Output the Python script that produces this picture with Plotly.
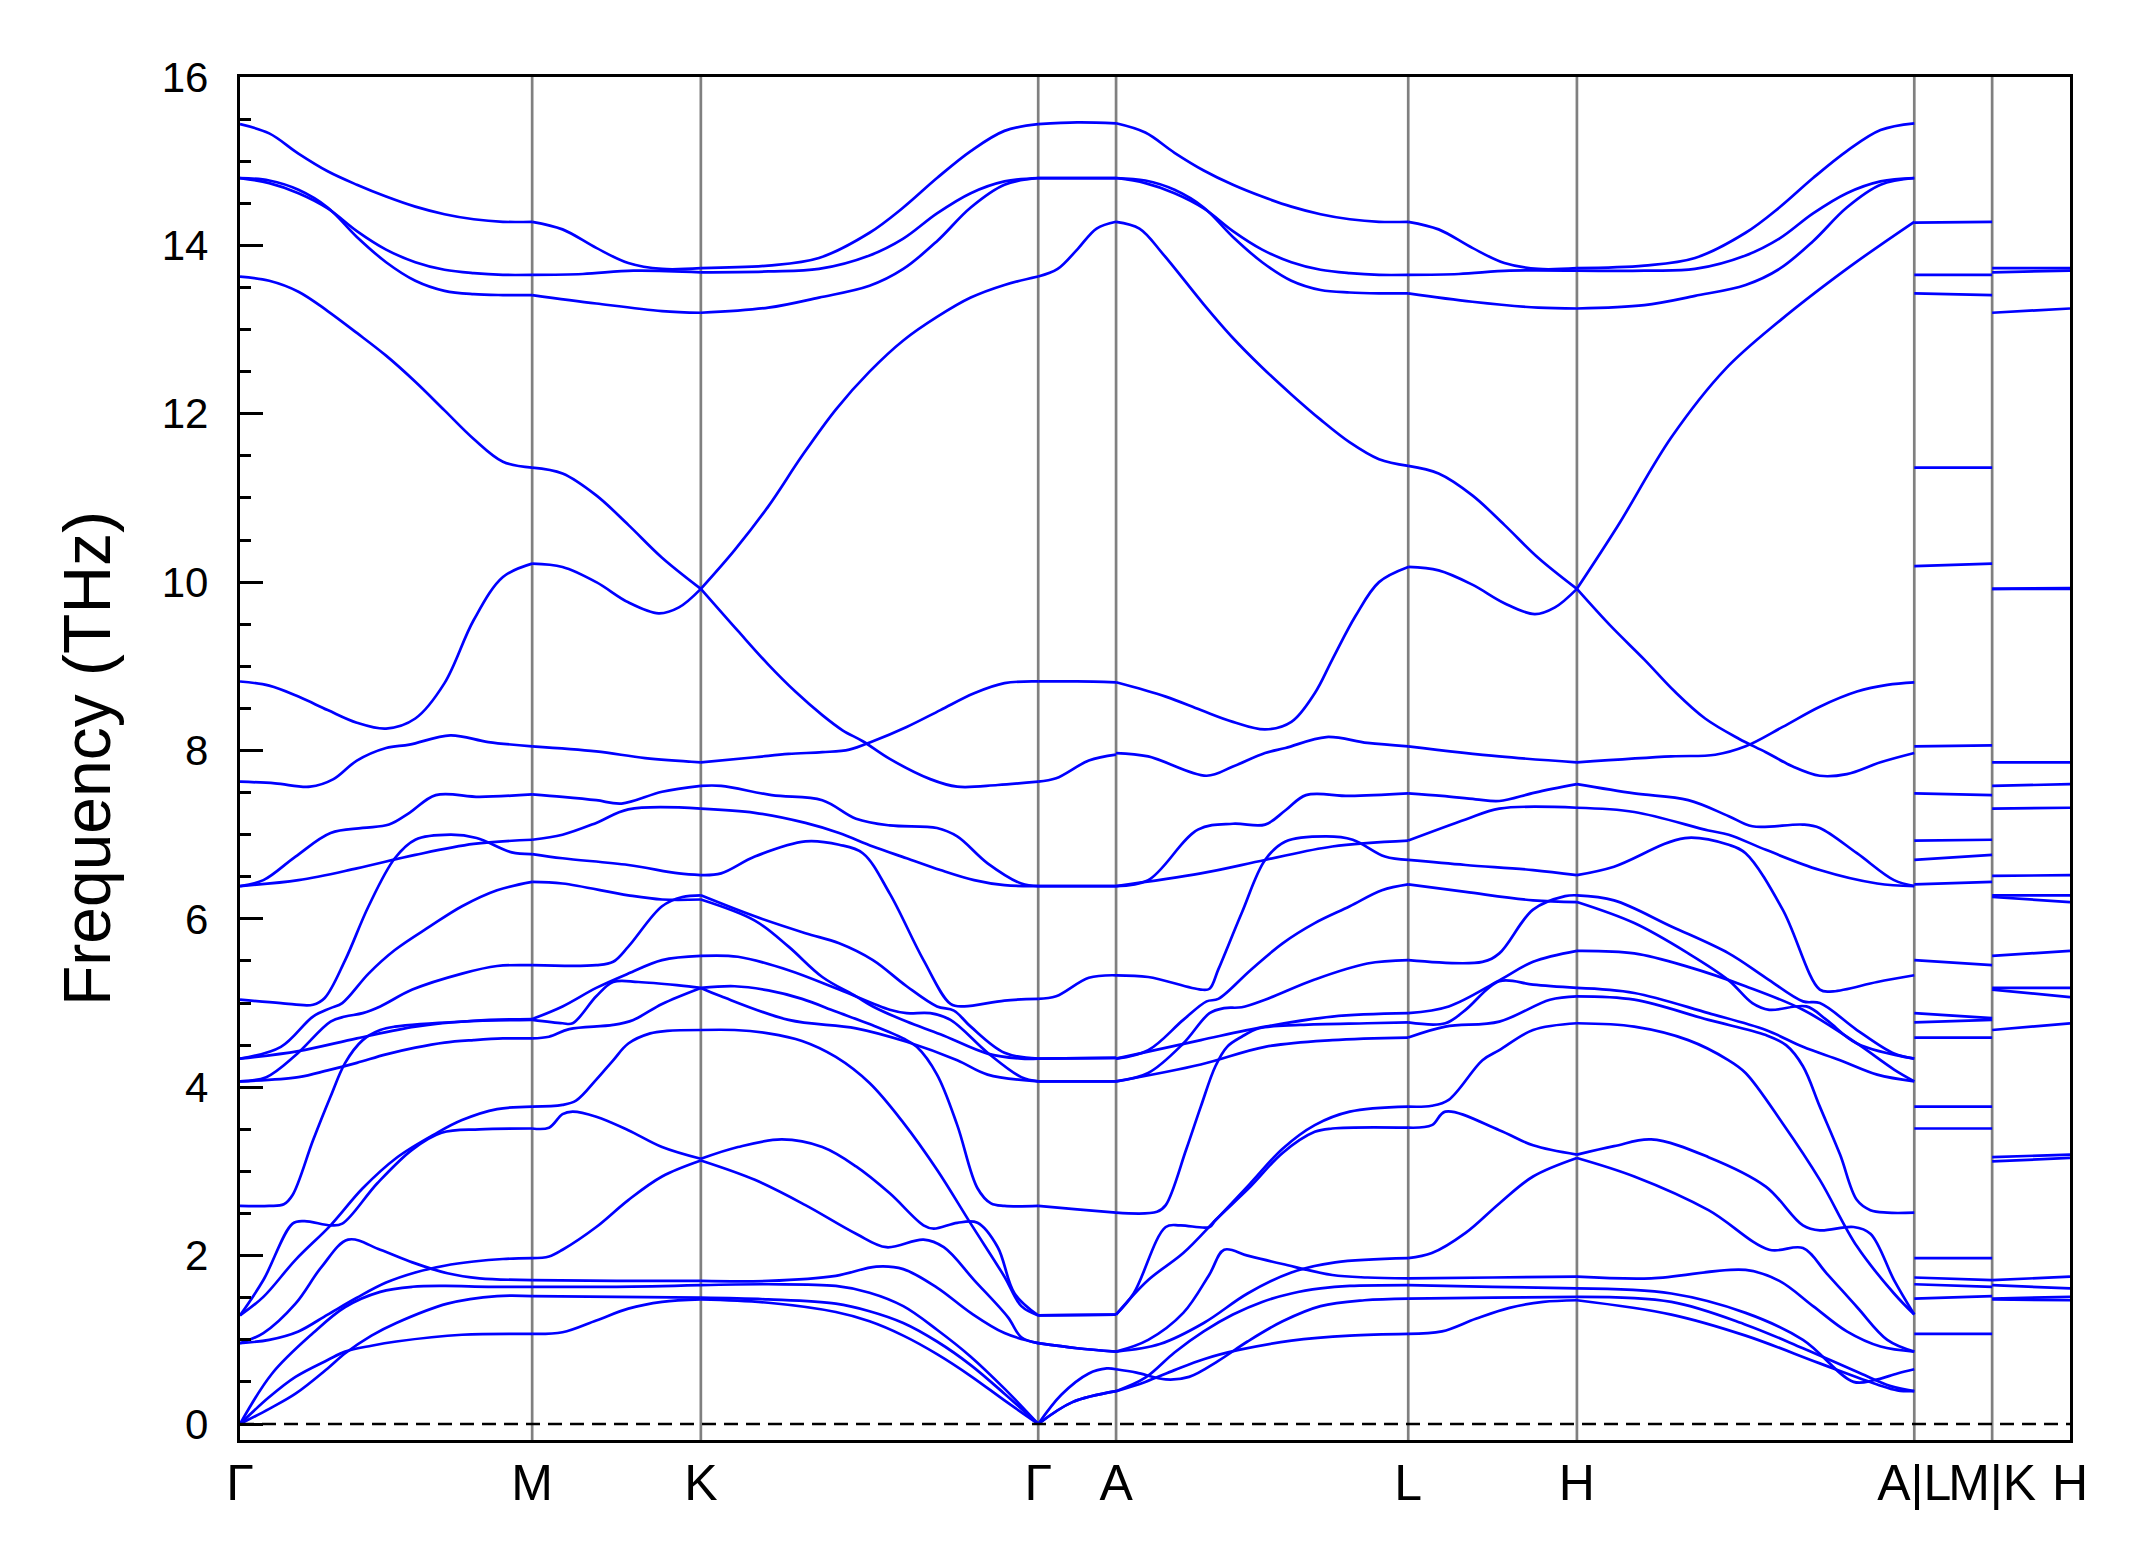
import plotly.graph_objects as go

# ---------------- path / labels ----------------
LABELS = ["Γ", "M", "K", "Γ", "A", "L", "H", "A|L", "M|K", "H"]
SEG_LEN = [1.0, 0.5774, 1.1547, 0.2665, 1.0, 0.5774, 1.1547, 0.2665, 0.2665]

# ---------------- band data: (fraction along segment, THz) ----------------
GM = [
    [(0,15.44),(.1,15.33),(.2,15.09),(.3,14.88),(.4,14.72),(.5,14.58),(.6,14.46),(.7,14.37),(.8,14.31),(.9,14.28),(1,14.28)],
    [(0,14.80),(.1,14.77),(.2,14.66),(.3,14.45),(.4,14.10),(.5,13.80),(.6,13.58),(.7,13.46),(.8,13.42),(.9,13.41),(1,13.41)],
    [(0,14.80),(.1,14.74),(.2,14.62),(.3,14.44),(.4,14.17),(.5,13.95),(.6,13.80),(.7,13.71),(.8,13.67),(.9,13.65),(1,13.65)],
    [(0,13.63),(.1,13.58),(.2,13.45),(.3,13.22),(.4,12.96),(.5,12.69),(.6,12.38),(.7,12.04),(.8,11.70),(.9,11.43),(1,11.36)],
    [(0,8.82),(.1,8.77),(.2,8.64),(.3,8.48),(.4,8.33),(.5,8.26),(.6,8.38),(.7,8.80),(.8,9.55),(.9,10.06),(1,10.22)],
    [(0,7.63),(.12,7.61),(.24,7.57),(.32,7.66),(.4,7.88),(.5,8.03),(.58,8.07),(.72,8.18),(.85,8.10),(1,8.05)],
    [(0,6.39),(.08,6.46),(.19,6.74),(.31,7.02),(.42,7.08),(.51,7.12),(.58,7.26),(.67,7.47),(.82,7.45),(1,7.48)],
    [(0,6.39),(.2,6.46),(.4,6.60),(.6,6.76),(.8,6.89),(1,6.94)],
    [(0,5.04),(.14,5.00),(.25,4.98),(.29,5.06),(.36,5.51),(.44,6.15),(.53,6.72),(.6,6.94),(.72,7.00),(.81,6.96),(.93,6.79),(1,6.77)],
    [(0,4.34),(.14,4.48),(.25,4.84),(.31,4.94),(.35,5.00),(.44,5.35),(.53,5.63),(.65,5.91),(.76,6.15),(.88,6.34),(1,6.44)],
    [(0,4.34),(.2,4.43),(.4,4.58),(.6,4.72),(.8,4.79),(1,4.81)],
    [(0,4.07),(.09,4.12),(.19,4.38),(.31,4.78),(.36,4.84),(.42,4.88),(.48,4.96),(.59,5.16),(.76,5.35),(.88,5.44),(1,5.45)],
    [(0,4.07),(.2,4.12),(.3,4.20),(.4,4.29),(.5,4.39),(.6,4.47),(.7,4.53),(.8,4.56),(.9,4.58),(1,4.58)],
    [(0,2.59),(.1,2.59),(.15,2.61),(.18,2.72),(.25,3.37),(.31,3.89),(.36,4.29),(.42,4.56),(.48,4.68),(.53,4.72),(.76,4.78),(1,4.80)],
    [(0,1.29),(.08,1.71),(.18,2.38),(.22,2.41),(.31,2.36),(.35,2.38),(.47,2.86),(.59,3.26),(.69,3.46),(.82,3.50),(1,3.51)],
    [(0,1.29),(.08,1.51),(.19,1.95),(.31,2.36),(.42,2.80),(.535,3.16),(.67,3.45),(.76,3.61),(.88,3.74),(1,3.77)],
    [(0,0.96),(.08,1.08),(.19,1.43),(.28,1.87),(.37,2.19),(.48,2.07),(.59,1.92),(.71,1.79),(.82,1.73),(1,1.71)],
    [(0,0.96),(.1,1.00),(.2,1.10),(.3,1.30),(.4,1.50),(.5,1.68),(.6,1.80),(.7,1.88),(.8,1.93),(.9,1.96),(1,1.97)],
    [(0,0),(.11,0.60),(.25,1.08),(.36,1.39),(.48,1.57),(.59,1.63),(.7,1.64),(.85,1.63),(1,1.63)],
    [(0,0),(.1,0.18),(.19,0.36),(.3,0.66),(.36,0.84),(.45,1.05),(.535,1.20),(.71,1.43),(.88,1.52),(1,1.52)],
    [(0,0),(.1,0.32),(.19,0.56),(.3,0.76),(.36,0.86),(.45,0.93),(.535,0.98),(.76,1.06),(1,1.07)],
]

MK = [
    [(0,14.28),(.18,14.19),(.38,13.97),(.57,13.79),(.77,13.72),(1,13.73)],
    [(0,13.65),(.3,13.66),(.6,13.70),(1,13.68)],
    [(0,13.41),(.38,13.31),(.77,13.22),(1,13.20)],
    [(0,11.36),(.18,11.29),(.38,11.03),(.57,10.68),(.77,10.29),(1,9.92)],
    [(0,10.22),(.18,10.18),(.38,10.00),(.57,9.76),(.75,9.63),(.87,9.70),(1,9.92)],
    [(0,8.05),(.38,7.99),(.67,7.91),(1,7.86)],
    [(0,7.48),(.18,7.45),(.38,7.41),(.53,7.37),(.77,7.51),(1,7.58)],
    [(0,6.94),(.18,7.00),(.38,7.14),(.57,7.30),(1,7.31)],
    [(0,6.77),(.18,6.72),(.57,6.64),(.87,6.54),(1,6.52)],
    [(0,6.44),(.18,6.42),(.57,6.28),(.77,6.23),(1,6.23)],
    [(0,5.45),(.38,5.45),(.48,5.49),(.57,5.67),(.77,6.15),(.89,6.26),(1,6.28)],
    [(0,4.81),(.18,4.96),(.38,5.18),(.57,5.35),(.77,5.51),(1,5.56)],
    [(0,4.80),(.18,4.76),(.24,4.76),(.38,5.08),(.48,5.25),(.63,5.25),(.87,5.21),(1,5.18)],
    [(0,4.58),(.1,4.60),(.22,4.69),(.48,4.74),(.6,4.80),(.77,4.99),(1,5.18)],
    [(0,3.77),(.18,3.79),(.26,3.84),(.38,4.09),(.48,4.32),(.57,4.52),(.7,4.64),(.8,4.67),(1,4.68)],
    [(0,3.51),(.1,3.52),(.18,3.68),(.24,3.71),(.38,3.65),(.57,3.49),(.77,3.29),(1,3.15)],
    [(0,1.97),(.1,1.99),(.18,2.07),(.38,2.34),(.57,2.66),(.77,2.94),(1,3.13)],
    [(0,1.71),(.5,1.70),(1,1.70)],
    [(0,1.63),(.5,1.63),(1,1.65)],
    [(0,1.52),(.5,1.51),(1,1.50)],
    [(0,1.07),(.18,1.09),(.38,1.23),(.57,1.37),(.77,1.45),(1,1.48)],
]

KG = [
    [(0,13.73),(.2,13.76),(.35,13.85),(.5,14.15),(.6,14.45),(.7,14.80),(.8,15.12),(.9,15.36),(1,15.44)],
    [(0,13.68),(.2,13.69),(.35,13.72),(.5,13.88),(.6,14.08),(.7,14.38),(.8,14.62),(.9,14.76),(1,14.80)],
    [(0,13.20),(.2,13.26),(.35,13.38),(.5,13.52),(.6,13.72),(.7,14.05),(.8,14.45),(.9,14.72),(1,14.80)],
    [(0,9.92),(.1,10.38),(.2,10.90),(.3,11.50),(.4,12.05),(.5,12.50),(.6,12.87),(.7,13.15),(.8,13.38),(.9,13.53),(1,13.63)],
    [(0,9.92),(.11,9.42),(.2,9.02),(.28,8.70),(.36,8.42),(.42,8.24),(.48,8.11),(.56,7.90),(.68,7.66),(.76,7.57),(.88,7.59),(1,7.63)],
    [(0,7.86),(.16,7.92),(.26,7.96),(.36,7.98),(.44,8.01),(.51,8.11),(.61,8.28),(.71,8.48),(.81,8.68),(.90,8.80),(1,8.82)],
    [(0,7.58),(.06,7.58),(.21,7.47),(.36,7.41),(.46,7.19),(.56,7.11),(.70,7.08),(.76,6.98),(.85,6.66),(.95,6.42),(1,6.39)],
    [(0,7.31),(.16,7.26),(.31,7.14),(.41,7.02),(.51,6.86),(.61,6.72),(.71,6.58),(.81,6.46),(.90,6.40),(1,6.39)],
    [(0,6.52),(.06,6.54),(.16,6.74),(.31,6.92),(.41,6.88),(.48,6.78),(.56,6.30),(.66,5.51),(.74,4.99),(.78,4.96),(.90,5.03),(1,5.05)],
    [(0,6.28),(.16,6.03),(.31,5.83),(.41,5.71),(.51,5.51),(.61,5.20),(.70,4.96),(.75,4.91),(.80,4.72),(.90,4.41),(1,4.34)],
    [(0,6.23),(.16,5.98),(.26,5.67),(.36,5.31),(.46,5.08),(.51,4.96),(.61,4.78),(.71,4.63),(.85,4.40),(.95,4.34),(1,4.34)],
    [(0,5.56),(.11,5.55),(.26,5.39),(.41,5.16),(.56,4.92),(.61,4.88),(.68,4.88),(.74,4.80),(.85,4.41),(.95,4.12),(1,4.07)],
    [(0,5.18),(.06,5.08),(.26,4.80),(.46,4.70),(.61,4.54),(.76,4.32),(.85,4.15),(1,4.07)],
    [(0,5.18),(.1,5.20),(.2,5.15),(.3,5.05),(.4,4.90),(.5,4.75),(.6,4.58),(.64,4.48),(.7,4.15),(.76,3.55),(.82,2.80),(.86,2.62),(.9,2.59),(1,2.59)],
    [(0,4.68),(.1,4.68),(.2,4.64),(.3,4.55),(.4,4.36),(.5,4.05),(.6,3.58),(.7,3.02),(.8,2.38),(.9,1.75),(.95,1.40),(1,1.29)],
    [(0,3.15),(.11,3.29),(.24,3.38),(.36,3.29),(.46,3.06),(.56,2.74),(.66,2.36),(.69,2.32),(.76,2.39),(.82,2.39),(.88,2.10),(.93,1.55),(1,1.29)],
    [(0,3.13),(.16,2.90),(.31,2.60),(.46,2.26),(.55,2.10),(.66,2.19),(.72,2.10),(.81,1.71),(.91,1.27),(.95,1.03),(1,0.96)],
    [(0,1.70),(.2,1.70),(.4,1.76),(.52,1.87),(.6,1.84),(.7,1.62),(.8,1.32),(.9,1.08),(1,0.96)],
    [(0,1.65),(.2,1.66),(.4,1.64),(.5,1.56),(.6,1.40),(.7,1.12),(.8,0.80),(.9,0.42),(1,0)],
    [(0,1.50),(.2,1.48),(.4,1.43),(.5,1.34),(.6,1.20),(.7,0.98),(.8,0.70),(.9,0.36),(1,0)],
    [(0,1.48),(.2,1.44),(.4,1.33),(.5,1.22),(.6,1.05),(.7,0.83),(.8,0.57),(.9,0.28),(1,0)],
]

GA = [
    [(0,15.44),(.5,15.46),(1,15.45)],
    [(0,14.80),(.5,14.80),(1,14.80)],
    [(0,14.80),(.5,14.80),(1,14.80)],
    [(0,13.63),(.25,13.72),(.5,13.95),(.75,14.20),(1,14.28)],
    [(0,8.82),(.5,8.82),(1,8.81)],
    [(0,7.63),(.23,7.67),(.65,7.88),(1,7.95)],
    [(0,6.39),(1,6.39)],
    [(0,6.39),(1,6.39)],
    [(0,5.05),(.23,5.08),(.65,5.30),(1,5.33)],
    [(0,4.34),(1,4.35)],
    [(0,4.34),(1,4.35)],
    [(0,4.07),(1,4.07)],
    [(0,4.07),(1,4.07)],
    [(0,2.59),(.5,2.55),(1,2.51)],
    [(0,1.29),(1,1.30)],
    [(0,1.29),(1,1.30)],
    [(0,0.96),(.5,0.90),(1,0.86)],
    [(0,0.96),(.5,0.90),(1,0.86)],
    [(0,0),(.3,0.35),(.65,0.60),(.88,0.66),(1,0.65)],
    [(0,0),(.44,0.26),(1,0.39)],
    [(0,0),(.44,0.26),(1,0.39)],
]

AL = [
    [(0,15.45),(.1,15.34),(.2,15.10),(.3,14.89),(.4,14.72),(.5,14.58),(.6,14.46),(.7,14.37),(.8,14.31),(.9,14.28),(1,14.28)],
    [(0,14.80),(.1,14.77),(.2,14.66),(.3,14.45),(.4,14.10),(.5,13.80),(.6,13.58),(.7,13.47),(.8,13.44),(.9,13.43),(1,13.43)],
    [(0,14.80),(.1,14.74),(.2,14.62),(.3,14.44),(.4,14.17),(.5,13.95),(.6,13.80),(.7,13.71),(.8,13.67),(.9,13.65),(1,13.65)],
    [(0,14.28),(.08,14.20),(.16,13.90),(.3,13.30),(.4,12.90),(.5,12.55),(.6,12.23),(.7,11.93),(.8,11.66),(.9,11.46),(1,11.38)],
    [(0,8.81),(.17,8.64),(.29,8.48),(.40,8.34),(.51,8.25),(.6,8.34),(.68,8.68),(.74,9.08),(.82,9.60),(.9,10.00),(1,10.18)],
    [(0,7.97),(.11,7.93),(.31,7.70),(.40,7.81),(.51,7.97),(.58,8.03),(.72,8.16),(.86,8.09),(1,8.05)],
    [(0,6.39),(.11,6.46),(.28,7.06),(.40,7.13),(.51,7.12),(.58,7.29),(.65,7.47),(.80,7.46),(1,7.49)],
    [(0,6.39),(.29,6.54),(.51,6.70),(.74,6.86),(1,6.93)],
    [(0,5.33),(.11,5.31),(.29,5.16),(.32,5.17),(.35,5.40),(.43,6.07),(.51,6.70),(.58,6.92),(.72,6.98),(.81,6.94),(.92,6.74),(1,6.70)],
    [(0,4.34),(.11,4.44),(.23,4.80),(.31,5.02),(.35,5.05),(.46,5.39),(.57,5.71),(.68,5.95),(.80,6.15),(.91,6.34),(1,6.41)],
    [(0,4.34),(.29,4.56),(.51,4.72),(.74,4.84),(1,4.88)],
    [(0,4.07),(.11,4.17),(.23,4.52),(.32,4.88),(.37,4.94),(.43,4.95),(.51,5.04),(.68,5.28),(.86,5.47),(1,5.51)],
    [(0,4.07),(.29,4.27),(.51,4.48),(.74,4.56),(1,4.59)],
    [(0,2.51),(.14,2.52),(.17,2.60),(.24,3.26),(.29,3.77),(.34,4.25),(.38,4.48),(.43,4.60),(.49,4.70),(.63,4.74),(.86,4.76),(1,4.77)],
    [(0,1.30),(.06,1.55),(.17,2.34),(.22,2.36),(.32,2.34),(.34,2.42),(.46,2.82),(.57,3.22),(.68,3.47),(.74,3.51),(1,3.52)],
    [(0,1.30),(.11,1.71),(.23,2.03),(.34,2.42),(.46,2.86),(.57,3.27),(.68,3.55),(.80,3.71),(1,3.77)],
    [(0,0.86),(.11,1.00),(.23,1.32),(.32,1.78),(.37,2.07),(.45,2.00),(.57,1.90),(.74,1.77),(.86,1.74),(1,1.73)],
    [(0,0.86),(.15,0.95),(.3,1.20),(.45,1.55),(.6,1.80),(.75,1.92),(1,1.97)],
    [(0,0.39),(.1,0.55),(.2,0.85),(.3,1.10),(.4,1.30),(.5,1.45),(.6,1.55),(.7,1.61),(.8,1.64),(1,1.65)],
    [(0,0.65),(.07,0.61),(.17,0.53),(.25,0.56),(.35,0.75),(.45,0.98),(.57,1.22),(.7,1.40),(.85,1.47),(1,1.49)],
    [(0,0.39),(.1,0.50),(.2,0.64),(.3,0.77),(.42,0.88),(.6,0.99),(.8,1.05),(1,1.07)],
]

LH = [
    [(0,14.28),(.18,14.19),(.38,13.97),(.57,13.79),(.77,13.72),(1,13.73)],
    [(0,13.65),(.3,13.66),(.6,13.70),(1,13.70)],
    [(0,13.43),(.38,13.33),(.77,13.26),(1,13.25)],
    [(0,11.38),(.18,11.29),(.38,11.03),(.57,10.68),(.77,10.29),(1,9.92)],
    [(0,10.18),(.18,10.14),(.38,9.97),(.57,9.75),(.75,9.62),(.87,9.70),(1,9.92)],
    [(0,8.05),(.54,7.93),(1,7.86)],
    [(0,7.49),(.2,7.46),(.4,7.42),(.54,7.40),(.75,7.50),(1,7.60)],
    [(0,6.93),(.34,7.18),(.54,7.31),(1,7.32)],
    [(0,6.70),(.34,6.64),(.74,6.58),(1,6.52)],
    [(0,6.41),(.34,6.32),(.74,6.22),(1,6.20)],
    [(0,5.51),(.44,5.49),(.54,5.59),(.74,6.11),(.93,6.27),(1,6.28)],
    [(0,4.88),(.24,4.96),(.54,5.27),(.74,5.49),(1,5.62)],
    [(0,4.77),(.22,4.76),(.34,4.92),(.54,5.26),(.74,5.22),(1,5.18)],
    [(0,4.59),(.22,4.72),(.54,4.78),(.84,5.04),(1,5.08)],
    [(0,3.77),(.14,3.78),(.24,3.85),(.44,4.32),(.54,4.44),(.74,4.68),(1,4.76)],
    [(0,3.52),(.14,3.55),(.22,3.71),(.54,3.49),(.74,3.31),(1,3.20)],
    [(0,1.97),(.14,2.03),(.34,2.27),(.54,2.62),(.74,2.94),(1,3.16)],
    [(0,1.73),(.5,1.74),(1,1.75)],
    [(0,1.65),(.5,1.63),(1,1.61)],
    [(0,1.49),(.5,1.50),(1,1.51)],
    [(0,1.07),(.2,1.10),(.4,1.25),(.6,1.38),(.8,1.45),(1,1.47)],
]

HA = [
    [(0,13.73),(.2,13.76),(.35,13.85),(.5,14.15),(.6,14.45),(.7,14.80),(.8,15.12),(.9,15.37),(1,15.45)],
    [(0,13.70),(.2,13.70),(.35,13.72),(.5,13.88),(.6,14.08),(.7,14.38),(.8,14.62),(.9,14.76),(1,14.80)],
    [(0,13.25),(.2,13.29),(.35,13.40),(.5,13.53),(.6,13.72),(.7,14.05),(.8,14.45),(.9,14.72),(1,14.80)],
    [(0,9.92),(.12,10.66),(.28,11.72),(.44,12.53),(.6,13.10),(.81,13.75),(1,14.28)],
    [(0,9.92),(.1,9.48),(.2,9.08),(.29,8.70),(.38,8.38),(.48,8.14),(.56,7.98),(.64,7.81),(.72,7.70),(.8,7.72),(.9,7.86),(1,7.97)],
    [(0,7.86),(.28,7.93),(.41,7.95),(.5,8.05),(.61,8.28),(.72,8.52),(.83,8.70),(.92,8.78),(1,8.81)],
    [(0,7.60),(.17,7.49),(.33,7.41),(.45,7.22),(.52,7.10),(.67,7.12),(.72,7.08),(.83,6.78),(.94,6.46),(1,6.39)],
    [(0,7.32),(.17,7.27),(.39,7.05),(.45,7.00),(.56,6.82),(.72,6.58),(.89,6.42),(1,6.39)],
    [(0,6.52),(.11,6.62),(.32,6.96),(.45,6.88),(.5,6.78),(.61,6.11),(.72,5.16),(.76,5.14),(.89,5.25),(1,5.33)],
    [(0,6.28),(.11,6.22),(.28,5.91),(.45,5.59),(.56,5.30),(.67,5.02),(.72,5.00),(.83,4.68),(.94,4.40),(1,4.34)],
    [(0,6.20),(.17,5.95),(.33,5.59),(.45,5.27),(.52,5.00),(.57,4.92),(.68,4.96),(.74,4.80),(.83,4.52),(1,4.34)],
    [(0,5.62),(.17,5.59),(.33,5.43),(.5,5.20),(.67,4.92),(.83,4.52),(.94,4.21),(1,4.07)],
    [(0,5.18),(.17,5.12),(.39,4.88),(.56,4.68),(.67,4.48),(.78,4.32),(.89,4.15),(1,4.07)],
    [(0,5.08),(.17,5.04),(.39,4.80),(.56,4.62),(.62,4.50),(.67,4.25),(.72,3.77),(.78,3.20),(.83,2.66),(.87,2.54),(.92,2.51),(1,2.51)],
    [(0,4.76),(.17,4.72),(.33,4.56),(.45,4.32),(.5,4.17),(.61,3.57),(.72,2.90),(.83,2.11),(.94,1.55),(1,1.30)],
    [(0,3.20),(.11,3.30),(.22,3.38),(.39,3.17),(.56,2.82),(.67,2.36),(.72,2.30),(.82,2.34),(.87,2.26),(.94,1.71),(1,1.30)],
    [(0,3.16),(.17,2.94),(.39,2.54),(.57,2.07),(.67,2.09),(.74,1.79),(.83,1.39),(.92,1.00),(1,0.86)],
    [(0,1.75),(.22,1.73),(.5,1.83),(.6,1.70),(.7,1.40),(.8,1.10),(.9,0.92),(1,0.86)],
    [(0,1.61),(.28,1.55),(.5,1.32),(.67,1.00),(.82,0.50),(.88,0.52),(.95,0.60),(1,0.65)],
    [(0,1.51),(.28,1.45),(.5,1.18),(.67,0.90),(.83,0.62),(.93,0.45),(1,0.39)],
    [(0,1.47),(.28,1.30),(.5,1.05),(.72,0.72),(.89,0.47),(.95,0.40),(1,0.39)],
]

LM_L = [14.27, 13.65, 13.43, 11.36, 10.19, 8.05, 7.49, 6.93, 6.70, 6.41, 5.51, 4.88, 4.77, 4.59, 3.77, 3.51, 1.97, 1.74, 1.66, 1.49, 1.07]
LM_M = [14.28, 13.65, 13.41, 11.36, 10.22, 8.06, 7.47, 6.94, 6.76, 6.44, 5.45, 4.82, 4.80, 4.59, 3.77, 3.51, 1.97, 1.71, 1.63, 1.52, 1.07]
KH_K = [13.73, 13.68, 13.20, 9.92, 9.92, 7.86, 7.58, 7.31, 6.51, 6.28, 6.26, 5.56, 5.18, 5.16, 4.68, 3.17, 3.12, 1.71, 1.65, 1.49, 1.48]
KH_H = [13.73, 13.70, 13.25, 9.92, 9.93, 7.86, 7.60, 7.32, 6.52, 6.28, 6.20, 5.62, 5.18, 5.07, 4.76, 3.20, 3.16, 1.75, 1.61, 1.51, 1.47]

LM = [[(0, a), (1, b)] for a, b in zip(LM_L, LM_M)]
KH = [[(0, a), (1, b)] for a, b in zip(KH_K, KH_H)]

SEGMENTS = [GM, MK, KG, GA, AL, LH, HA, LM, KH]

# ---------------- build figure ----------------
ticks = [0.0]
for L in SEG_LEN:
    ticks.append(ticks[-1] + L)
xmax = ticks[-1]

fig = go.Figure()
for si, seg in enumerate(SEGMENTS):
    x0, L = ticks[si], SEG_LEN[si]
    for band in seg:
        xs = [x0 + t * L for t, _ in band]
        ys = [f for _, f in band]
        fig.add_trace(go.Scatter(
            x=xs, y=ys, mode="lines",
            line=dict(color="#0000ff", width=2.7, shape="spline", smoothing=1.0),
            showlegend=False, hoverinfo="skip"))

shapes = []
for xv in ticks[1:-1]:
    shapes.append(dict(type="line", xref="x", yref="paper", x0=xv, x1=xv, y0=0, y1=1,
                       line=dict(color="#808080", width=2.7), layer="below"))
shapes.append(dict(type="line", xref="x", yref="y", x0=0, x1=xmax, y0=0, y1=0,
                   line=dict(color="black", width=2.6, dash="14px,8px"), layer="above"))

FONT = "Liberation Sans, Arial, Helvetica, sans-serif"
fig.update_layout(
    width=2148, height=1567,
    margin=dict(l=232, r=86, t=69, b=135),
    paper_bgcolor="white", plot_bgcolor="white",
    shapes=shapes,
    font=dict(family=FONT, color="black", size=42),
    xaxis=dict(range=[0, xmax], tickvals=ticks, ticktext=LABELS, tickangle=0,
               ticks="", showgrid=False, zeroline=False,
               showline=True, linecolor="black", linewidth=3.3, mirror=True,
               tickfont=dict(family=FONT, size=50, color="black"), ticklabelstandoff=-3),
    yaxis=dict(range=[-0.19, 16], tickmode="linear", tick0=0, dtick=2,
               ticks="inside", ticklen=23, tickwidth=3, tickcolor="black",
               minor=dict(ticks="inside", ticklen=11, tickwidth=2.5, dtick=0.5, tick0=0, tickcolor="black"),
               showgrid=False, zeroline=False,
               showline=True, linecolor="black", linewidth=3.3, mirror=True,
               tickfont=dict(family=FONT, size=42, color="black"), ticklabelstandoff=20,
               title=dict(text="Frequency (THz)", font=dict(family=FONT, size=66, color="black"), standoff=30)),
)

fig.write_html("out.html")
